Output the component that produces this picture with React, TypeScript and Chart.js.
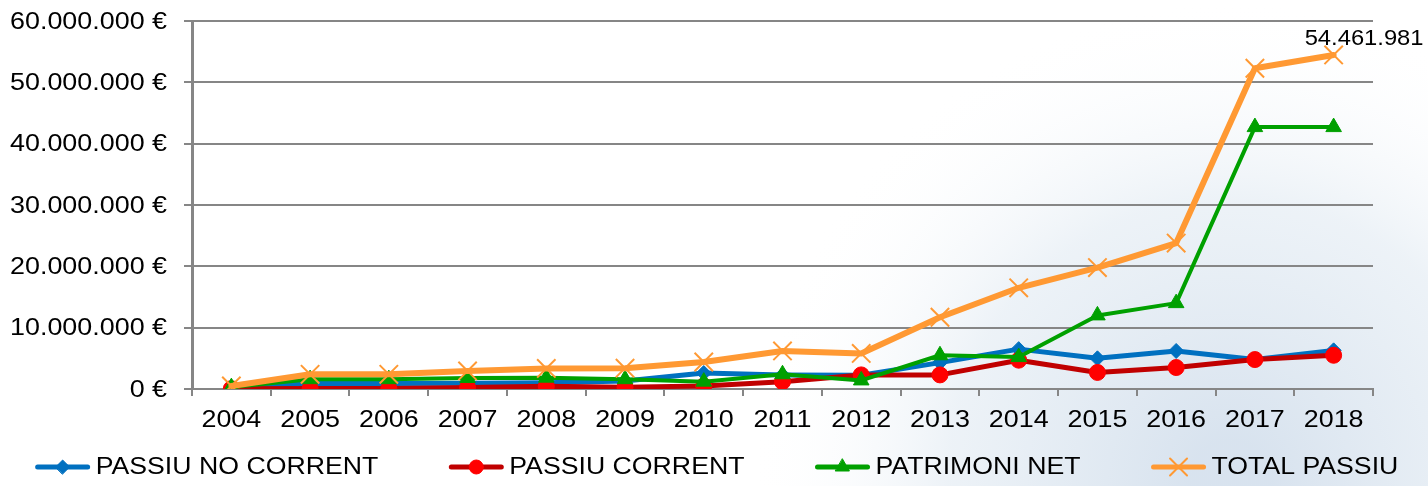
import React, { useEffect, useRef } from 'react';
import { Chart, registerables } from 'chart.js';
import { drawPoint } from 'chart.js/helpers';

Chart.register(...registerables);

const years = ['2004', '2005', '2006', '2007', '2008', '2009', '2010', '2011', '2012', '2013', '2014', '2015', '2016', '2017', '2018'];
const passiuNoCorrent = [200000, 900000, 900000, 950000, 1000000, 1300000, 2600000, 2300000, 2250000, 4300000, 6500000, 5000000, 6200000, 4800000, 6300000];
const passiuCorrent = [50000, 100000, 100000, 250000, 450000, 300000, 500000, 1200000, 2300000, 2300000, 4700000, 2700000, 3500000, 4800000, 5500000];
const patrimoniNet = [300000, 1600000, 1600000, 1800000, 1850000, 1600000, 1200000, 2400000, 1400000, 5500000, 5200000, 12000000, 14000000, 42700000, 42700000];
const totalPassiu = [500000, 2400000, 2400000, 2950000, 3350000, 3400000, 4400000, 6200000, 5800000, 11700000, 16500000, 19800000, 23800000, 52300000, 54461981];
const seriesLabels = ['PASSIU NO CORRENT', 'PASSIU CORRENT', 'PATRIMONI NET', 'TOTAL PASSIU'];

const FONT = '"Liberation Sans", Arial, Helvetica, sans-serif';
const GRID = '#868686';
const STRETCH = 1.12;

function groupDots(v: number): string {
  return Math.round(v).toString().replace(/\B(?=(\d{3})+(?!\d))/g, '.');
}

function stretchedText(ctx: any, text: string, x: number, y: number, sx: number, align: string, baseline: string) {
  ctx.save();
  ctx.translate(x, y);
  ctx.scale(sx, 1);
  ctx.textAlign = align;
  ctx.textBaseline = baseline;
  ctx.fillText(text, 0, 0);
  ctx.restore();
}

const backgroundPlugin = {
  id: 'bgWash',
  beforeDraw(chart: any) {
    const { ctx, width, height } = chart;
    ctx.save();
    ctx.fillStyle = '#ffffff';
    ctx.fillRect(0, 0, width, height);
    const g = ctx.createRadialGradient(1230, 480, 40, 1230, 480, 480);
    g.addColorStop(0, 'rgba(212,224,237,0.9)');
    g.addColorStop(0.55, 'rgba(222,232,241,0.55)');
    g.addColorStop(1, 'rgba(255,255,255,0)');
    ctx.fillStyle = g;
    ctx.fillRect(0, 0, width, height);
    ctx.restore();
  },
};

const tickLabelPlugin = {
  id: 'stretchedTicks',
  afterDraw(chart: any) {
    const ctx = chart.ctx;
    const ys = chart.scales.y;
    const xs = chart.scales.x;
    ctx.save();
    ctx.fillStyle = '#000000';
    ctx.font = `24px ${FONT}`;
    ys.ticks.forEach((t: any, i: number) => {
      stretchedText(ctx, groupDots(t.value) + ' €', 167, ys.getPixelForTick(i) + 1, STRETCH, 'right', 'middle');
    });
    xs.ticks.forEach((t: any, i: number) => {
      stretchedText(ctx, years[i], xs.getPixelForTick(i), xs.top + 31, STRETCH, 'center', 'middle');
    });
    ctx.restore();
  },
};

const valueLabelPlugin = {
  id: 'lastValueLabel',
  afterDatasetsDraw(chart: any) {
    const meta = chart.getDatasetMeta(3);
    const n = totalPassiu.length - 1;
    const pt = meta.data[n];
    if (!pt) return;
    const ctx = chart.ctx;
    ctx.save();
    ctx.font = `22px ${FONT}`;
    ctx.fillStyle = '#000000';
    stretchedText(ctx, groupDots(totalPassiu[n]), pt.x - 29, pt.y - 10, 1.08, 'left', 'alphabetic');
    ctx.restore();
  },
};

const legendPlugin = {
  id: 'lineLegend',
  afterDraw(chart: any) {
    const ctx = chart.ctx;
    const ds = chart.data.datasets;
    const sx = 1.16;
    const lineW = 54;
    const gapLT = 6;
    const gapItem = 71;
    const y = 467;
    ctx.save();
    ctx.font = `23px ${FONT}`;
    const widths = ds.map((d: any) => lineW + gapLT + ctx.measureText(d.label).width * sx);
    const total = widths.reduce((a: number, b: number) => a + b, 0) + gapItem * (ds.length - 1);
    let x = (chart.width - total) / 2 + 3;
    ds.forEach((d: any, i: number) => {
      ctx.strokeStyle = d.borderColor;
      ctx.lineWidth = 5;
      ctx.lineCap = 'round';
      ctx.beginPath();
      ctx.moveTo(x + 2, y);
      ctx.lineTo(x + lineW - 2, y);
      ctx.stroke();
      ctx.fillStyle = d.pointBackgroundColor;
      ctx.strokeStyle = d.pointBorderColor;
      ctx.lineWidth = d.pointBorderWidth;
      drawPoint(ctx, { pointStyle: d.pointStyle, radius: d.legendRadius, rotation: 0, borderWidth: d.pointBorderWidth }, x + lineW / 2, y);
      ctx.fillStyle = '#000000';
      stretchedText(ctx, d.label, x + lineW + gapLT, y + 1, sx, 'left', 'middle');
      x += widths[i] + gapItem;
    });
    ctx.restore();
  },
};

export default function App() {
  const canvasRef = useRef<HTMLCanvasElement | null>(null);

  useEffect(() => {
    document.body.style.margin = '0';
    const canvas = canvasRef.current;
    if (!canvas) return;
    const chart = new Chart(canvas, {
      type: 'line',
      data: {
        labels: years,
        datasets: [
          {
            label: seriesLabels[0],
            data: passiuNoCorrent,
            borderColor: '#0070c0',
            backgroundColor: '#0070c0',
            pointBackgroundColor: '#0070c0',
            pointBorderColor: '#0070c0',
            pointBorderWidth: 1,
            borderWidth: 5,
            borderJoinStyle: 'round',
            borderCapStyle: 'round',
            pointStyle: 'rectRot',
            pointRadius: 7.5,
            legendRadius: 7,
            order: 4,
          } as any,
          {
            label: seriesLabels[1],
            data: passiuCorrent,
            borderColor: '#c00000',
            backgroundColor: '#ff0000',
            pointBackgroundColor: '#ff0000',
            pointBorderColor: '#ff0000',
            pointBorderWidth: 1,
            borderWidth: 5,
            borderJoinStyle: 'round',
            borderCapStyle: 'round',
            pointStyle: 'circle',
            pointRadius: 8,
            legendRadius: 7,
            order: 3,
          } as any,
          {
            label: seriesLabels[2],
            data: patrimoniNet,
            borderColor: '#00a000',
            backgroundColor: '#00a000',
            pointBackgroundColor: '#00a000',
            pointBorderColor: '#00a000',
            pointBorderWidth: 1,
            borderWidth: 4,
            borderJoinStyle: 'round',
            borderCapStyle: 'round',
            pointStyle: 'triangle',
            pointRadius: 9,
            legendRadius: 8,
            order: 2,
          } as any,
          {
            label: seriesLabels[3],
            data: totalPassiu,
            borderColor: '#ff9933',
            backgroundColor: '#ff9933',
            pointBackgroundColor: '#ff9933',
            pointBorderColor: '#ff9933',
            pointBorderWidth: 2,
            borderWidth: 6,
            borderJoinStyle: 'round',
            borderCapStyle: 'round',
            pointStyle: 'crossRot',
            pointRadius: 13,
            legendRadius: 12,
            order: 1,
          } as any,
        ],
      },
      options: {
        responsive: false,
        animation: false,
        devicePixelRatio: 1,
        events: [],
        layout: { padding: { left: 0, top: 21, right: 55, bottom: 47 } },
        plugins: {
          legend: { display: false },
          tooltip: { enabled: false },
          title: { display: false },
        },
        elements: { line: { tension: 0 } },
        scales: {
          x: {
            offset: true,
            grid: {
              offset: true,
              drawOnChartArea: false,
              drawTicks: true,
              tickLength: 7,
              color: GRID,
              lineWidth: 2,
            },
            border: { display: true, color: GRID, width: 2 },
            ticks: {
              color: 'rgba(0,0,0,0)',
              font: { family: FONT, size: 6 },
              padding: 2,
              maxRotation: 0,
              autoSkip: false,
            },
            afterFit: (scale: any) => {
              scale.height = 50;
            },
          },
          y: {
            min: 0,
            max: 60000000,
            grid: {
              color: GRID,
              lineWidth: 2,
              tickLength: 8,
              drawTicks: true,
            },
            border: { display: true, color: GRID, width: 3 },
            ticks: {
              stepSize: 10000000,
              color: 'rgba(0,0,0,0)',
              font: { family: FONT, size: 6 },
              padding: 2,
              callback: (v: any) => groupDots(Number(v)) + ' €',
            },
            afterFit: (scale: any) => {
              scale.width = 192;
            },
          },
        },
      },
      plugins: [backgroundPlugin, tickLabelPlugin, valueLabelPlugin, legendPlugin],
    });
    return () => chart.destroy();
  }, []);

  return (
    <div style={{ position: 'absolute', left: 0, top: 0, width: 1428, height: 486 }}>
      <canvas ref={canvasRef} width={1428} height={486} style={{ display: 'block', width: 1428, height: 486 }} />
    </div>
  );
}
